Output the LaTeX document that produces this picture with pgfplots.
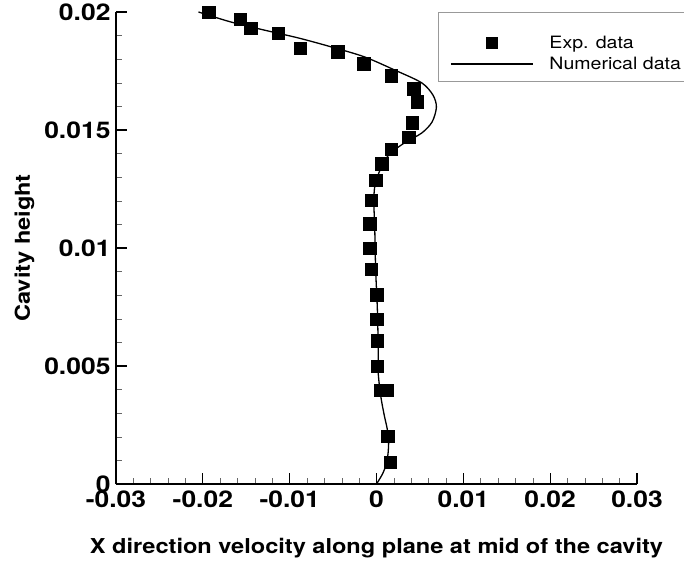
\documentclass[border=0pt]{standalone}
\usepackage{fontspec}
\setmainfont{TeX Gyre Heros}[FakeStretch=1.15]
\usepackage{pgfplots}
\pgfplotsset{compat=1.18}
\pgfplotsset{
  markleg/.style={legend image code/.code={\draw[mark repeat=2,mark phase=2,mark size=5.5pt,##1] plot coordinates {(0pt,0pt)(41pt,0pt)(82pt,0pt)};}},
  lineleg/.style={legend image code/.code={\draw[##1] (0pt,0pt) -- (82pt,0pt);}},
}
\begin{document}
\begin{tikzpicture}
\begin{axis}[
  scale only axis, width=521pt, height=472pt,
  xmin=-0.03, xmax=0.03, ymin=0, ymax=0.02,
  axis x line*=bottom, axis y line*=left,
  axis line style={line width=1.6pt},
  tick align=inside,
  major tick length=11pt, minor tick length=6pt,
  every major tick/.style={line width=1.3pt, black},
  every minor tick/.style={line width=0.5pt, black!60},
  xtick={-0.03,-0.02,-0.01,0,0.01,0.02,0.03},
  xticklabels={-0.03,-0.02,-0.01,0,0.01,0.02,0.03},
  ytick={0,0.005,0.01,0.015,0.02},
  yticklabels={0,0.005,0.01,0.015,0.02},
  minor x tick num=4, minor y tick num=4,
  scaled ticks=false,
  ticklabel style={font=\fontsize{23}{25}\selectfont\bfseries},
  xticklabel style={yshift=-3pt},
  yticklabel style={xshift=-2pt},
  xlabel={X direction velocity along plane at mid of the cavity},
  ylabel={Cavity height},
  label style={font=\fontsize{20.5}{24}\selectfont\bfseries},
  xlabel style={yshift=-24pt},
  ylabel style={yshift=3pt},
  legend style={at={(rel axis cs:0.641,1)}, anchor=north west, yshift=-22pt,
    draw=none, fill=none, inner sep=0pt,
    font=\fontsize{17}{18}\selectfont, row sep=3pt,
    /tikz/every odd column/.append style={column sep=14pt}},
  legend cell align=left,
  clip=false,
]
\draw[black!40, line width=0.8pt] (rel axis cs:0.618,1) rectangle (rel axis cs:1.12,0.852);
\addplot[only marks, mark=square*, mark size=6.3pt, black, markleg]
coordinates {
(-0.0193,0.0200) (-0.0157,0.0197) (-0.0145,0.01932) (-0.0113,0.01911)
(-0.0088,0.01847) (-0.0045,0.01831) (-0.0015,0.01780) (0.0017,0.01729)
(0.0043,0.01674) (0.0047,0.01619) (0.0041,0.01530) (0.0037,0.01470)
(0.0017,0.01419) (0.0006,0.01356) (-0.0001,0.01288) (-0.0006,0.01203)
(-0.0008,0.01102) (-0.0008,0.01000) (-0.0006,0.00911) (0.0000,0.00801)
(0.0000,0.00699) (0.0001,0.00606) (0.0001,0.00500) (0.0005,0.00398)
(0.0012,0.00398) (0.0013,0.00203) (0.0016,0.00093)
};
\addlegendentry{Exp. data}
\addplot[black, line width=1.3pt, smooth, tension=0.5, lineleg]
coordinates {
(0,0) (0.0005,0.0003) (0.0009,0.0006) (0.0013,0.0012) (0.0014,0.0019)
(0.0012,0.0024) (0.0009,0.0029) (0.0005,0.0037) (0.0002,0.0047)
(0.0002,0.0057) (0.0001,0.0074) (-0.0001,0.0091) (-0.0002,0.0108)
(-0.0003,0.0119) (-0.0002,0.0126) (0.0004,0.0133) (0.0014,0.01394)
(0.0032,0.01445) (0.0052,0.01487) (0.0064,0.01534) (0.0069,0.01597)
(0.0065,0.01648) (0.0052,0.0170) (0.0021,0.01754) (-0.0014,0.0181)
(-0.0052,0.01852) (-0.0090,0.0189) (-0.0130,0.01924) (-0.0168,0.01958)
(-0.0205,0.0200)
};
\addlegendentry{Numerical data}
\end{axis}
\pgfresetboundingbox
\path (current axis.south west) ++(-116pt,-79pt) rectangle ++(684pt,563pt);
\end{tikzpicture}
\end{document}
